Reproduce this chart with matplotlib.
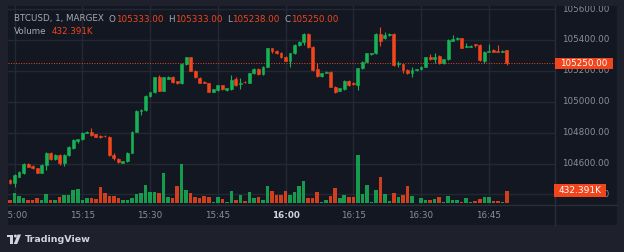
import matplotlib
matplotlib.use("Agg")
import matplotlib.pyplot as plt
import matplotlib.transforms as mtransforms
from matplotlib.patches import Rectangle, Polygon, Circle

# ---------------- data ----------------
symbol_title = "BTCUSD, 1, MARGEX"
opens = [104494,104472,104516,104537,104598,104585,104570,104542,104591,104671,
         104628,104656,104602,104656,104699,104749,104757,104800,104807,104790,
         104781,104781,104774,104656,104632,104606,104615,104671,104807,104943,
         104947,105038,105061,105158,105072,105150,105163,105132,105120,105245,
         105288,105199,105154,105130,105120,105066,105076,105107,105076,105081,
         105145,105115,105130,105124,105184,105214,105180,105227,105346,105331,
         105318,105292,105266,105314,105368,105389,105439,105357,105210,105167,
         105189,105195,105098,105072,105081,105135,105124,105109,105217,105260,
         105309,105314,105439,105411,105432,105439,105242,105242,105206,105184,
         105206,105210,105227,105288,105275,105296,105249,105275,105396,105404,
         105411,105357,105357,105372,105368,105266,105324,105335,105328,105324,
         105333]
highs = [104498,104530,104552,104602,104606,104588,104574,104595,104675,104675,
         104660,104660,104660,104715,104757,104762,104805,104810,104828,104794,
         104785,104787,104778,104671,104636,104619,104675,104811,104947,104951,
         105042,105065,105162,105173,105162,105167,105167,105136,105249,105292,
         105292,105203,105158,105134,105124,105085,105111,105111,105091,105173,
         105163,105152,105134,105188,105218,105218,105231,105350,105350,105335,
         105322,105296,105318,105372,105393,105443,105443,105361,105249,105188,
         105199,105199,105102,105091,105139,105139,105128,105221,105264,105318,
         105318,105443,105486,105454,105443,105443,105266,105246,105210,105227,
         105214,105231,105292,105309,105314,105300,105279,105404,105432,105422,
         105415,105383,105365,105374,105372,105326,105374,105339,105368,105335,
         105333]
lows = [104468,104451,104512,104533,104576,104566,104537,104537,104560,104624,
        104624,104591,104585,104652,104695,104735,104753,104796,104781,104770,
        104766,104770,104652,104624,104606,104602,104611,104667,104803,104915,
        104943,105034,105057,105068,105068,105146,105124,105116,105116,105241,
        105198,105154,105120,105120,105062,105062,105072,105077,105072,105077,
        105103,105081,105122,105120,105180,105176,105176,105223,105314,105310,
        105284,105262,105227,105310,105364,105368,105349,105202,105163,105163,
        105185,105094,105055,105068,105077,105105,105111,105076,105213,105256,
        105305,105310,105361,105407,105428,105234,105227,105184,105180,105163,
        105202,105206,105223,105271,105249,105245,105245,105271,105392,105400,
        105346,105353,105353,105357,105267,105249,105320,105320,105320,105320,
        105238]
closes = [104472,104526,104548,104598,104580,104570,104542,104591,104671,104628,
          104656,104602,104656,104710,104753,104757,104800,104805,104785,104774,
          104770,104776,104656,104634,104611,104615,104671,104807,104943,104947,
          105038,105061,105158,105072,105158,105163,105128,105120,105245,105288,
          105202,105158,105124,105124,105066,105081,105107,105081,105087,105141,
          105107,105124,105126,105184,105214,105180,105227,105346,105331,105314,
          105288,105266,105314,105368,105389,105439,105353,105206,105167,105184,
          105195,105098,105066,105087,105135,105109,105115,105217,105260,105314,
          105314,105439,105396,105432,105439,105238,105249,105206,105184,105206,
          105210,105227,105288,105275,105292,105249,105275,105400,105404,105411,
          105350,105363,105361,105365,105271,105322,105331,105324,105324,105331,
          105250]
volumes_k = [114,341,250,171,114,114,171,114,319,114,
             114,228,285,285,455,478,114,171,171,148,
             569,364,250,250,171,114,114,171,319,341,
             626,398,376,341,1024,228,171,603,1343,455,
             364,228,171,250,228,57,205,148,57,432,
             114,285,80,376,171,205,114,603,432,285,
             285,432,285,376,603,774,171,171,376,57,
             114,250,512,171,285,228,228,1650,319,626,
             57,455,910,319,91,341,228,285,603,262,
             23,171,114,114,137,205,57,262,114,114,
             57,171,57,80,148,205,228,91,91,34,
             432.391]
time_labels = ["15:00", "15:15", "15:30", "15:45", "16:00", "16:15", "16:30", "16:45"]
time_label_index = [1, 16, 31, 46, 61, 76, 91, 106]   # bar index of each label (first bar = 14:59)
price_levels = [104400, 104600, 104800, 105000, 105200, 105400, 105600]

# ---------------- style ----------------
W, H = 624, 252
OUTER = "#1e212b"
PANE = "#131722"
GRID = "#242833"
SEP = "#2a2e39"
TXT = "#8b8e97"
HDR = "#a6a9b2"
RED = "#f2451c"
GREEN = "#17b255"

fig = plt.figure(figsize=(W / 100, H / 100), dpi=100)
fig.patch.set_facecolor(OUTER)

def fx(x):
    return x / W

def fy(y):
    return 1 - y / H

PL, PR, PT, PB = 7.5, 555, 6, 205      # main pane (px)
AR = 617                                # right edge of price axis
TB = 225                                # bottom of time axis strip

fig.add_artist(Rectangle((fx(PL), fy(TB)), fx(AR) - fx(PL), (TB - PT) / H,
                         transform=fig.transFigure, facecolor=PANE, edgecolor="none", zorder=0))

n = len(opens)
xlim = ((PL - 10) / 4.517, (PR - 10) / 4.517)
ylim = (104332, 105620)

rect_main = [fx(PL), fy(PB), fx(PR) - fx(PL), (PB - PT) / H]

# volume axes (bottom layer, with grid)
vax = fig.add_axes(rect_main, zorder=1)
vax.set_facecolor("none")
vax.set_xlim(*xlim)
vax.set_ylim(-58, 6740)
vax.axis("off")

# price axes (top layer)
ax = fig.add_axes(rect_main, zorder=2)
ax.set_facecolor("none")
ax.set_xlim(*xlim)
ax.set_ylim(*ylim)
ax.axis("off")

# grid
for xi in time_label_index:
    vax.axvline(xi, color=GRID, lw=1.0, zorder=0)
btrans = mtransforms.blended_transform_factory(vax.transAxes, ax.transData)
for p in price_levels:
    vax.plot([0, 1], [p, p], transform=btrans, color=GRID, lw=1.0, zorder=0)

# volume bars
vcolors = [GREEN if c >= o else RED for o, c in zip(opens, closes)]
vax.bar(range(n), volumes_k, width=0.78, color=vcolors, alpha=0.85, linewidth=0, zorder=1)

# candles
for i in range(n):
    col = GREEN if closes[i] >= opens[i] else RED
    ax.vlines(i, lows[i], highs[i], color=col, lw=0.8, zorder=3)
    lo = min(opens[i], closes[i])
    hgt = abs(closes[i] - opens[i])
    ax.bar(i, hgt, bottom=lo, width=0.64, color=col, edgecolor=col, linewidth=0.4, zorder=4)

# last price dotted line
ax.axhline(closes[-1], color=RED, lw=0.7, linestyle=(0, (1, 1.6)), zorder=2)

# separators
fig.add_artist(plt.Line2D([fx(PR), fx(PR)], [fy(PT), fy(TB)], transform=fig.transFigure, color=SEP, lw=1))
fig.add_artist(plt.Line2D([fx(PL), fx(AR)], [fy(PB), fy(PB)], transform=fig.transFigure, color=SEP, lw=1))

# price axis
pax = fig.add_axes([fx(PR), fy(PB), fx(AR) - fx(PR), (PB - PT) / H], zorder=2)
pax.set_facecolor("none")
pax.set_ylim(*ylim)
pax.set_xlim(0, 1)
pax.axis("off")
ptrans = mtransforms.blended_transform_factory(pax.transAxes, pax.transData)
for p in price_levels:
    pax.text(0.11, p, f"{p:.2f}", transform=ptrans, ha="left", va="center",
             fontsize=6.3, color=TXT, clip_on=True)

# time axis
tax = fig.add_axes([fx(PL), fy(TB), fx(PR) - fx(PL), (TB - PB) / H], zorder=2)
tax.set_facecolor("none")
tax.set_xlim(*xlim)
tax.set_ylim(0, 1)
tax.axis("off")
for lab, xi in zip(time_labels, time_label_index):
    bold = lab == "16:00"
    tax.text(xi, 0.5, lab, ha="center", va="center", fontsize=6.3,
             color="#d1d4dc" if bold else TXT, fontweight="bold" if bold else "normal",
             clip_on=True)

ident = mtransforms.IdentityTransform()

# last price label on price axis
_, yp = ax.transData.transform((0, closes[-1]))
fig.add_artist(Rectangle((PR, yp - 5.5), 58, 11, transform=ident, facecolor=RED, edgecolor="none", zorder=5))
fig.text(PR + 29, yp, f"{closes[-1]:.2f}", transform=ident, ha="center", va="center",
         fontsize=6.3, color="white", zorder=6)

# volume label
_, yv = vax.transData.transform((0, volumes_k[-1]))
fig.add_artist(Rectangle((PR - 1, yv - 6.5), 52, 13, transform=ident, facecolor=RED, edgecolor="none", zorder=5))
fig.text(PR + 25, yv, f"{volumes_k[-1]:.3f}K", transform=ident, ha="center", va="center",
         fontsize=6.5, color="white", zorder=6)

# header
renderer = fig.canvas.get_renderer()

def seq_text(x, y, parts, gap):
    for s, col, g in parts:
        t = fig.text(fx(x), fy(y), s, ha="left", va="center", fontsize=6.3, color=col, zorder=7)
        bb = t.get_window_extent(renderer=renderer)
        x += bb.width + (gap if g else 0)

seq_text(14, 19, [
    (symbol_title, HDR, True),
    ("O", HDR, False), (f"{opens[-1]:.2f}", RED, True),
    ("H", HDR, False), (f"{highs[-1]:.2f}", RED, True),
    ("L", HDR, False), (f"{lows[-1]:.2f}", RED, True),
    ("C", HDR, False), (f"{closes[-1]:.2f}", RED, False),
], 5)
seq_text(14, 32, [("Volume", HDR, True), (f"{volumes_k[-1]:.3f}K", RED, False)], 5)

# TradingView logo
def P(x, y):
    return (x, H - y)

LOGO = "#d1d4dc"
fig.add_artist(Polygon([P(7, 234.5), P(13.3, 234.5), P(13.3, 244), P(10.4, 244), P(10.4, 237.3), P(7, 237.3)],
                       closed=True, transform=ident, facecolor=LOGO, edgecolor="none"))
fig.add_artist(Circle(P(15.4, 236.0), 1.5, transform=ident, facecolor=LOGO, edgecolor="none"))
fig.add_artist(Polygon([P(17.6, 234.5), P(21.0, 234.5), P(17.2, 244), P(13.8, 244)],
                       closed=True, transform=ident, facecolor=LOGO, edgecolor="none"))
fig.text(fx(24.5), fy(239.5), "TradingView", ha="left", va="center", fontsize=6.8,
         color=LOGO, fontweight="semibold")

fig.savefig("out.png", dpi=100, facecolor=OUTER)
